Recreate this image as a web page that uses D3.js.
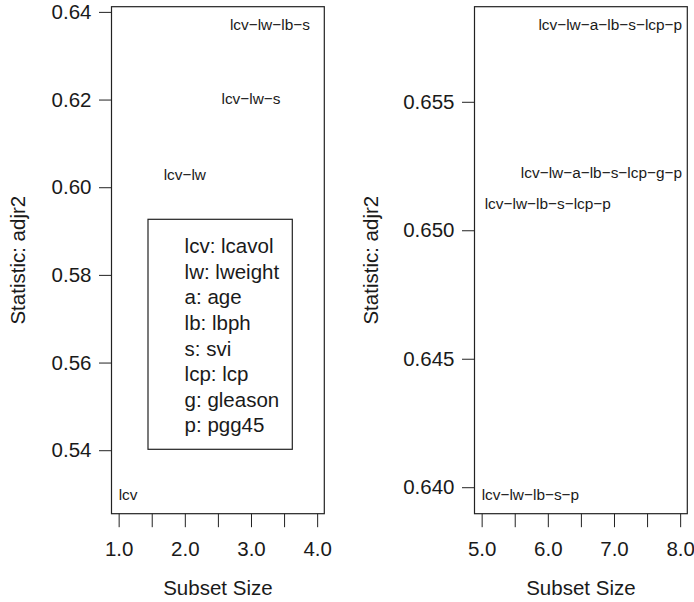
<!DOCTYPE html>
<html>
<head>
<meta charset="utf-8">
<script src="https://cdn.jsdelivr.net/npm/d3@7"></script>
<style>
  html, body { margin: 0; padding: 0; background: #fff; }
  svg { display: block; }
  text { font-family: "Liberation Sans", Arial, Helvetica, sans-serif; fill: #1a1a1a; }
</style>
</head>
<body>
<svg id="chart" width="694" height="602"></svg>
<script>
// ---------------- data ----------------
const leftSizes   = [1, 2, 3, 4];
const leftAdjr2   = [0.5298, 0.6027, 0.6200, 0.6369];
const leftLabels  = ["lcv", "lcv\u2212lw", "lcv\u2212lw\u2212s", "lcv\u2212lw\u2212lb\u2212s"];
const leftLabelX  = [1, 2, 3, 3.89];
const leftAnchor  = ["start", "middle", "middle", "end"];

const rightSizes  = [5, 6, 7, 8];
const rightAdjr2  = [0.63970, 0.65100, 0.65797, 0.65220];
const rightLabels = ["lcv\u2212lw\u2212lb\u2212s\u2212p", "lcv\u2212lw\u2212lb\u2212s\u2212lcp\u2212p",
                     "lcv\u2212lw\u2212a\u2212lb\u2212s\u2212lcp\u2212p", "lcv\u2212lw\u2212a\u2212lb\u2212s\u2212lcp\u2212g\u2212p"];
const rightLabelX = [5, 6, 8.03, 8.03];
const rightAnchor = ["start", "middle", "end", "end"];

const leftYTicks  = [0.54, 0.56, 0.58, 0.60, 0.62, 0.64];
const rightYTicks = [0.640, 0.645, 0.650, 0.655];
const leftXTicks  = [1, 1.5, 2, 2.5, 3, 3.5, 4];
const rightXTicks = [5, 5.5, 6, 6.5, 7, 7.5, 8];

const legendAbbrev = ["lcv", "lw", "a", "lb", "s", "lcp", "g", "p"];
const legendNames  = ["lcavol", "lweight", "age", "lbph", "svi", "lcp", "gleason", "pgg45"];

const xTitle = "Subset Size";
const yTitle = "Statistic: adjr2";

// ---------------- layout ----------------
const svg = d3.select("#chart");
const axisFont = 20.5, labelFont = 15.4;
const plotTop = 6.7, plotBottom = 513.7;
const ink = "#222";

const panels = [
  { sizes: leftSizes, stat: leftAdjr2, labels: leftLabels, lx: leftLabelX, anchor: leftAnchor,
    yTicks: leftYTicks, xTicks: leftXTicks, yFmt: d3.format(".2f"), x0: 111.5, x1: 324.3, titleX: 25 },
  { sizes: rightSizes, stat: rightAdjr2, labels: rightLabels, lx: rightLabelX, anchor: rightAnchor,
    yTicks: rightYTicks, xTicks: rightXTicks, yFmt: d3.format(".3f"), x0: 474.5, x1: 687.3, titleX: 378.3 }
];

panels.forEach(p => {
  const xe = d3.extent(p.sizes), ye = d3.extent(p.stat);
  const xp = (xe[1] - xe[0]) * 0.036, yp = (ye[1] - ye[0]) * 0.04;
  const x = d3.scaleLinear().domain([xe[0] - xp, xe[1] + xp]).range([p.x0, p.x1]);
  const y = d3.scaleLinear().domain([ye[0] - yp, ye[1] + yp]).range([plotBottom, plotTop]);

  const g = svg.append("g");

  // y axis
  const ya = g.append("g").attr("transform", `translate(${p.x0},0)`)
    .call(d3.axisLeft(y).tickValues(p.yTicks).tickFormat(p.yFmt).tickSize(12.5).tickPadding(7.5));
  ya.select(".domain").remove();
  ya.selectAll("line").attr("stroke", ink).attr("stroke-width", 1);
  ya.selectAll("text").attr("font-size", axisFont).attr("fill", "#1a1a1a")
    .attr("font-family", "Liberation Sans, Arial, sans-serif");

  // x axis
  const xa = g.append("g").attr("transform", `translate(0,${plotBottom})`)
    .call(d3.axisBottom(x).tickValues(p.xTicks)
      .tickFormat(d => Number.isInteger(d) ? d3.format(".1f")(d) : "")
      .tickSize(13.5).tickPadding(14.6));
  xa.select(".domain").remove();
  xa.selectAll("line").attr("stroke", ink).attr("stroke-width", 1);
  xa.selectAll("text").attr("font-size", axisFont).attr("fill", "#1a1a1a")
    .attr("font-family", "Liberation Sans, Arial, sans-serif");

  // plot box
  g.append("rect").attr("x", p.x0).attr("y", plotTop)
    .attr("width", p.x1 - p.x0).attr("height", plotBottom - plotTop)
    .attr("fill", "none").attr("stroke", ink).attr("stroke-width", 1.2);

  // subset labels
  g.selectAll("text.lab").data(p.labels).join("text")
    .attr("class", "lab")
    .attr("x", (d, i) => x(p.lx[i]))
    .attr("y", (d, i) => y(p.stat[i]))
    .attr("dy", "0.3em")
    .attr("text-anchor", (d, i) => p.anchor[i])
    .attr("font-size", labelFont)
    .text(d => d);

  // titles
  g.append("text").attr("x", (p.x0 + p.x1) / 2).attr("y", 594.8)
    .attr("text-anchor", "middle").attr("font-size", axisFont).text(xTitle);
  g.append("text").attr("transform", `translate(${p.titleX},${(plotTop + plotBottom) / 2}) rotate(-90)`)
    .attr("text-anchor", "middle").attr("font-size", axisFont).text(yTitle);
});

// legend (left panel)
const lg = svg.append("g");
lg.append("rect").attr("x", 148).attr("y", 219.3).attr("width", 144.3).attr("height", 230)
  .attr("fill", "none").attr("stroke", ink).attr("stroke-width", 1.2);
lg.selectAll("text").data(legendAbbrev).join("text")
  .attr("x", 184.6)
  .attr("y", (d, i) => 253.3 + i * 25.57)
  .attr("font-size", axisFont)
  .text((d, i) => `${d}: ${legendNames[i]}`);
</script>
</body>
</html>
